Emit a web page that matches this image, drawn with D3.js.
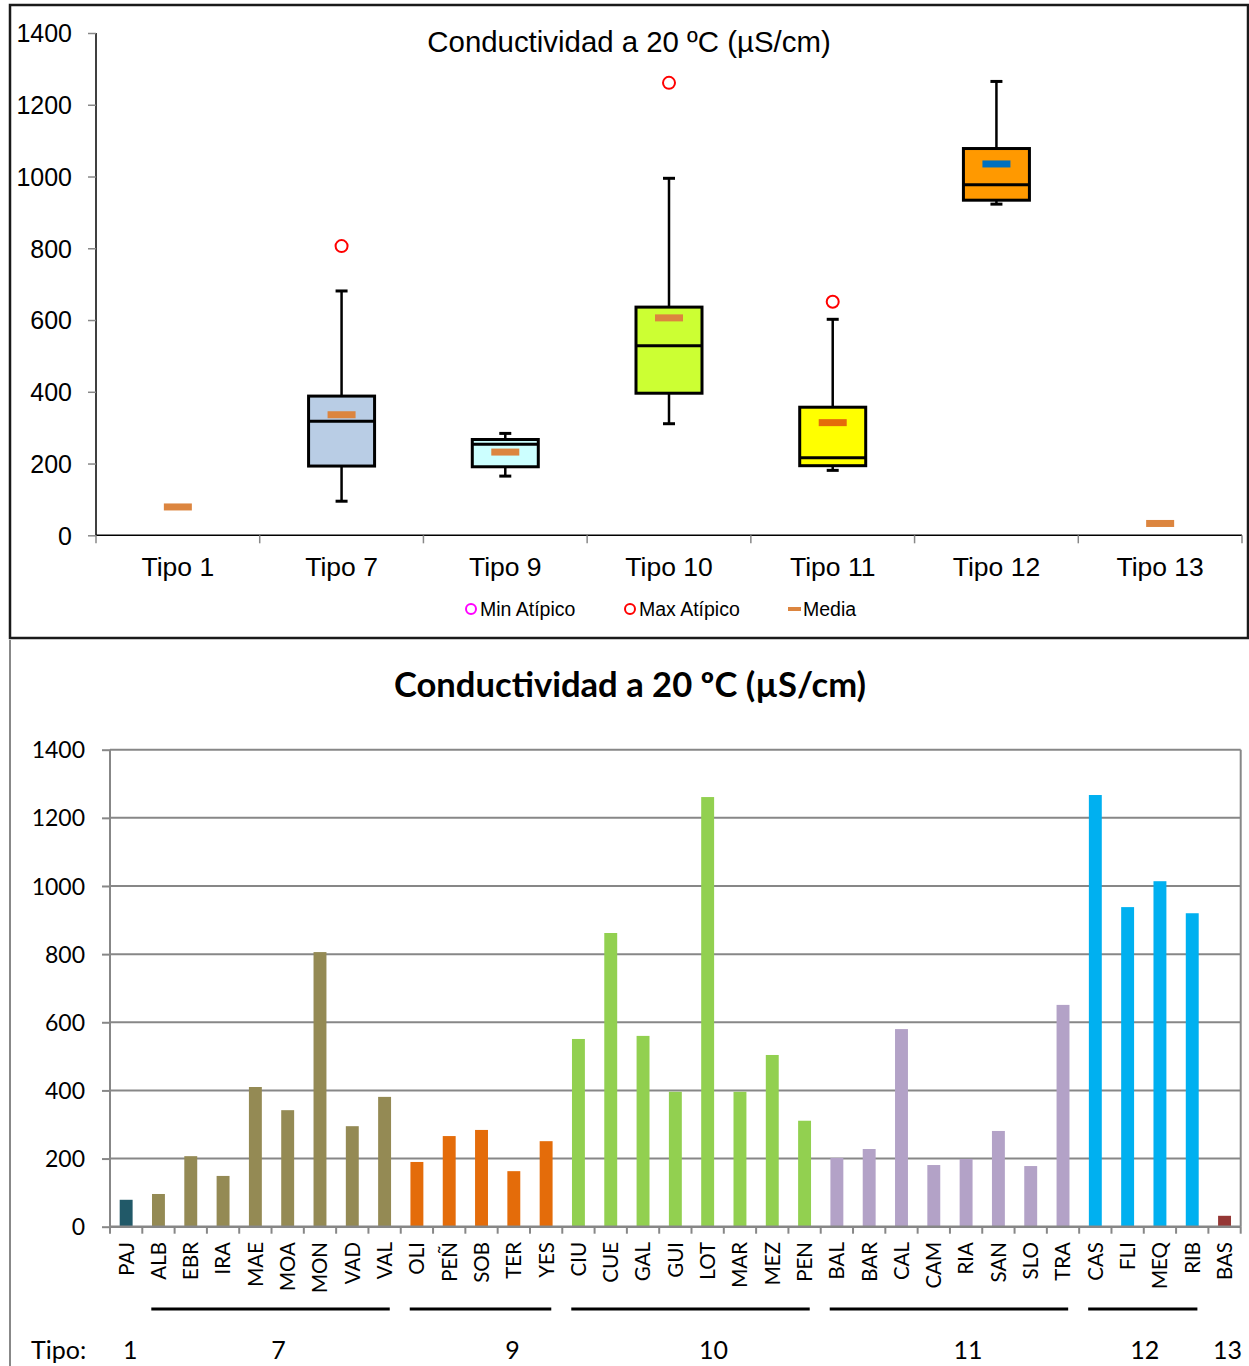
<!DOCTYPE html>
<html>
<head>
<meta charset="utf-8">
<script src="https://cdn.jsdelivr.net/npm/d3@7"></script>
<style>
  html, body { margin: 0; padding: 0; background: #fff; }
  svg { display: block; }
</style>
</head>
<body>
<svg id="chart" width="1249" height="1366"></svg>
<script>
// ---- Box plot data (Conductividad a 20 ºC por tipo) ----
const boxCategories = ["Tipo 1", "Tipo 7", "Tipo 9", "Tipo 10", "Tipo 11", "Tipo 12", "Tipo 13"];
const boxMin    = [null,  95, 165, 311, 181,  923, null];
const boxQ1     = [null, 193, 191, 396, 194,  934, null];
const boxMedian = [null, 318, 254, 528, 216,  977, null];
const boxQ3     = [null, 388, 267, 636, 357, 1078, null];
const boxMax    = [null, 681, 284, 995, 602, 1265, null];
const boxMean   = [79, 336, 232, 606, 314, 1035, 33];
const boxMaxOutlier = [null, 806, null, 1261, 651, null, null];
const boxTicks = [0, 200, 400, 600, 800, 1000, 1200, 1400];
const legendLabels = ["Min Atípico", "Max Atípico", "Media"];

// ---- Bar chart data (one bar per station) ----
const stations = ["PAJ", "ALB", "EBR", "IRA", "MAE", "MOA", "MON", "VAD", "VAL",
  "OLI", "PEÑ", "SOB", "TER", "YES",
  "CIU", "CUE", "GAL", "GUI", "LOT", "MAR", "MEZ", "PEN",
  "BAL", "BAR", "CAL", "CAM", "RIA", "SAN", "SLO", "TRA",
  "CAS", "FLI", "MEQ", "RIB", "BAS"];
const stationValues = [79, 96, 207, 149, 410, 342, 806, 295, 381,
  190, 266, 284, 163, 251,
  551, 862, 560, 396, 1261, 396, 504, 311,
  202, 228, 580, 181, 199, 281, 178, 651,
  1267, 938, 1014, 920, 32];
const stationTipo = [1, 7, 7, 7, 7, 7, 7, 7, 7,
  9, 9, 9, 9, 9,
  10, 10, 10, 10, 10, 10, 10, 10,
  11, 11, 11, 11, 11, 11, 11, 11,
  12, 12, 12, 12, 13];
const tipoGroups = [1, 7, 9, 10, 11, 12, 13];
const barTicks = [0, 200, 400, 600, 800, 1000, 1200, 1400];

const svg = d3.select("#chart");

// ================= Upper panel: box plot =================
const boxFont = "'Liberation Sans', Arial, sans-serif";
const boxFill = {"Tipo 7": "#b9cde5", "Tipo 9": "#ccffff", "Tipo 10": "#ccff33", "Tipo 11": "#ffff00", "Tipo 12": "#ff9900"};
const meanColor = {"Tipo 11": "#e46c0a", "Tipo 12": "#0070c0"};
const defaultMean = "#dc853f";

const boxPanel = svg.append("g");
boxPanel.append("rect").attr("x", 10).attr("y", 5).attr("width", 1238).attr("height", 633)
  .attr("fill", "#fff").attr("stroke", "#1a1a1a").attr("stroke-width", 2.5);

const yTop = d3.scaleLinear().domain([0, 1400]).range([535.3, 33]);
const xTop = d3.scaleBand().domain(boxCategories).range([96, 1242]).padding(0);

// y axis
const yAxisTop = boxPanel.append("g").attr("transform", "translate(96,0)")
  .call(d3.axisLeft(yTop).tickValues(boxTicks).tickSize(8).tickPadding(16).tickFormat(d3.format("d")));
yAxisTop.select(".domain").attr("stroke", "#000").attr("stroke-width", 1.5).attr("d", `M0,${yTop(1400)}V${yTop(0)}`);
yAxisTop.selectAll(".tick line").attr("stroke", "#888").attr("stroke-width", 1.5);
yAxisTop.selectAll(".tick text").attr("font-family", boxFont).attr("font-size", 25).attr("fill", "#000").attr("dy", "0.35em");

// x axis
const x0 = xTop.range()[0], x1 = xTop.range()[1];
boxPanel.append("line").attr("x1", x0).attr("x2", x1).attr("y1", yTop(0)).attr("y2", yTop(0))
  .attr("stroke", "#000").attr("stroke-width", 1.5);
const bounds = boxCategories.map(c => xTop(c)).concat([x1]);
boxPanel.selectAll(".xtick").data(bounds).join("line")
  .attr("x1", d => d).attr("x2", d => d).attr("y1", yTop(0)).attr("y2", yTop(0) + 8)
  .attr("stroke", "#888").attr("stroke-width", 1.5);
boxPanel.selectAll(".xlabel").data(boxCategories).join("text")
  .attr("x", d => xTop(d) + xTop.bandwidth() / 2).attr("y", 576)
  .attr("text-anchor", "middle").attr("font-family", boxFont).attr("font-size", 26.5).attr("fill", "#000")
  .text(d => d);

// title
boxPanel.append("text").attr("x", 629).attr("y", 52).attr("text-anchor", "middle")
  .attr("font-family", boxFont).attr("font-size", 29.4).attr("fill", "#000")
  .text("Conductividad a 20 ºC (µS/cm)");

// boxes
const boxW = 66, capW = 12;
boxCategories.forEach((c, i) => {
  const cx = xTop(c) + xTop.bandwidth() / 2;
  const g = boxPanel.append("g");
  if (boxQ1[i] != null) {
    // whiskers
    g.append("line").attr("x1", cx).attr("x2", cx).attr("y1", yTop(boxQ3[i])).attr("y2", yTop(boxMax[i]))
      .attr("stroke", "#000").attr("stroke-width", 2.5);
    g.append("line").attr("x1", cx).attr("x2", cx).attr("y1", yTop(boxQ1[i])).attr("y2", yTop(boxMin[i]))
      .attr("stroke", "#000").attr("stroke-width", 2.5);
    [boxMax[i], boxMin[i]].forEach(v => {
      g.append("line").attr("x1", cx - capW / 2).attr("x2", cx + capW / 2).attr("y1", yTop(v)).attr("y2", yTop(v))
        .attr("stroke", "#000").attr("stroke-width", 3);
    });
    // box
    g.append("rect").attr("x", cx - boxW / 2).attr("y", yTop(boxQ3[i]))
      .attr("width", boxW).attr("height", yTop(boxQ1[i]) - yTop(boxQ3[i]))
      .attr("fill", boxFill[c]).attr("stroke", "#000").attr("stroke-width", 3);
    g.append("line").attr("x1", cx - boxW / 2).attr("x2", cx + boxW / 2)
      .attr("y1", yTop(boxMedian[i])).attr("y2", yTop(boxMedian[i]))
      .attr("stroke", "#000").attr("stroke-width", 3);
  }
  // mean
  g.append("rect").attr("x", cx - 14).attr("y", yTop(boxMean[i]) - 3.5).attr("width", 28).attr("height", 7)
    .attr("fill", meanColor[c] || defaultMean);
  // outlier
  if (boxMaxOutlier[i] != null) {
    g.append("circle").attr("cx", cx).attr("cy", yTop(boxMaxOutlier[i])).attr("r", 6)
      .attr("fill", "none").attr("stroke", "#ff0000").attr("stroke-width", 2);
  }
});

// legend
const legY = 609;
const leg = boxPanel.append("g").attr("font-family", boxFont).attr("font-size", 19.5);
leg.append("circle").attr("cx", 471).attr("cy", legY).attr("r", 5).attr("fill", "none").attr("stroke", "#ff00ff").attr("stroke-width", 2);
leg.append("text").attr("x", 480).attr("y", legY + 7).text(legendLabels[0]);
leg.append("circle").attr("cx", 630).attr("cy", legY).attr("r", 5).attr("fill", "none").attr("stroke", "#ff0000").attr("stroke-width", 2);
leg.append("text").attr("x", 639).attr("y", legY + 7).text(legendLabels[1]);
leg.append("rect").attr("x", 788).attr("y", legY - 2).attr("width", 13).attr("height", 4).attr("fill", defaultMean);
leg.append("text").attr("x", 803).attr("y", legY + 7).text(legendLabels[2]);

// ================= Lower panel: bar chart =================
const barFont = "Lato, 'Noto Sans', sans-serif";
const tipoColor = {1: "#215968", 7: "#948a54", 9: "#e46c0a", 10: "#92d050", 11: "#b3a2c7", 12: "#00b0f0", 13: "#953735"};

const barPanel = svg.append("g");
barPanel.append("line").attr("x1", 10).attr("x2", 10).attr("y1", 640).attr("y2", 1366)
  .attr("stroke", "#888").attr("stroke-width", 2);

barPanel.append("text").attr("x", 630).attr("y", 697).attr("text-anchor", "middle")
  .attr("font-family", barFont).attr("font-weight", "bold").attr("font-size", 34.6).attr("fill", "#000")
  .text("Conductividad a 20 ºC (µS/cm)");

const yB = d3.scaleLinear().domain([0, 1400]).range([1226.7, 749.7]);
const xB = d3.scaleBand().domain(stations).range([110, 1240.7]).paddingInner(0.6).paddingOuter(0.3);
const step = xB.step();
const plotL = 110, plotR = 1240.7;

// gridlines
barPanel.selectAll(".grid").data(barTicks.filter(t => t > 0)).join("line")
  .attr("x1", plotL).attr("x2", plotR).attr("y1", d => yB(d)).attr("y2", d => yB(d))
  .attr("stroke", "#878787").attr("stroke-width", 2);
barPanel.append("line").attr("x1", plotR).attr("x2", plotR).attr("y1", yB(1400)).attr("y2", yB(0))
  .attr("stroke", "#878787").attr("stroke-width", 2);

// bars
barPanel.selectAll(".bar").data(stations).join("rect")
  .attr("x", d => xB(d)).attr("width", xB.bandwidth())
  .attr("y", (d, i) => yB(stationValues[i]))
  .attr("height", (d, i) => yB(0) - yB(stationValues[i]))
  .attr("fill", (d, i) => tipoColor[stationTipo[i]]);

// y axis
const yAxisB = barPanel.append("g").attr("transform", `translate(${plotL},0)`)
  .call(d3.axisLeft(yB).tickValues(barTicks).tickSize(8).tickPadding(17).tickFormat(d3.format("d")));
yAxisB.select(".domain").attr("stroke", "#878787").attr("stroke-width", 2).attr("d", `M0,${yB(1400)}V${yB(0)}`);
yAxisB.selectAll(".tick line").attr("stroke", "#878787").attr("stroke-width", 2);
yAxisB.selectAll(".tick text").attr("font-family", barFont).attr("font-size", 23).attr("fill", "#000").attr("dy", "0.35em");

// x axis
barPanel.append("line").attr("x1", plotL).attr("x2", plotR).attr("y1", yB(0)).attr("y2", yB(0))
  .attr("stroke", "#878787").attr("stroke-width", 2.5);
const bBounds = d3.range(stations.length + 1).map(k => plotL + k * step);
barPanel.selectAll(".btick").data(bBounds).join("line")
  .attr("x1", d => d).attr("x2", d => d).attr("y1", yB(0)).attr("y2", yB(0) + 7)
  .attr("stroke", "#878787").attr("stroke-width", 2);
barPanel.selectAll(".blabel").data(stations).join("text")
  .attr("transform", d => `translate(${xB(d) + xB.bandwidth() / 2},1242) rotate(-90)`)
  .attr("text-anchor", "end").attr("dy", "0.36em")
  .attr("font-family", barFont).attr("font-size", 20.5).attr("fill", "#000")
  .text(d => d);

// group brackets and type numbers
const labelShift = {1: 4, 7: 7, 9: 31, 10: 22, 11: 18, 12: 1, 13: 3};
tipoGroups.forEach(t => {
  const idx = stationTipo.map((v, i) => v === t ? i : -1).filter(i => i >= 0);
  const gx0 = plotL + idx[0] * step, gx1 = plotL + (idx[idx.length - 1] + 1) * step;
  if (idx.length > 1) {
    barPanel.append("line").attr("x1", gx0 + 9).attr("x2", gx1 - 11).attr("y1", 1309).attr("y2", 1309)
      .attr("stroke", "#000").attr("stroke-width", 3);
  }
  barPanel.append("text").attr("x", (gx0 + gx1) / 2 + labelShift[t]).attr("y", 1359)
    .attr("text-anchor", "middle").attr("font-family", barFont).attr("font-size", 25).attr("fill", "#000")
    .text(t);
});
barPanel.append("text").attr("x", 31).attr("y", 1359).attr("font-family", barFont).attr("font-size", 25).attr("fill", "#000")
  .text("Tipo:");
</script>
</body>
</html>
